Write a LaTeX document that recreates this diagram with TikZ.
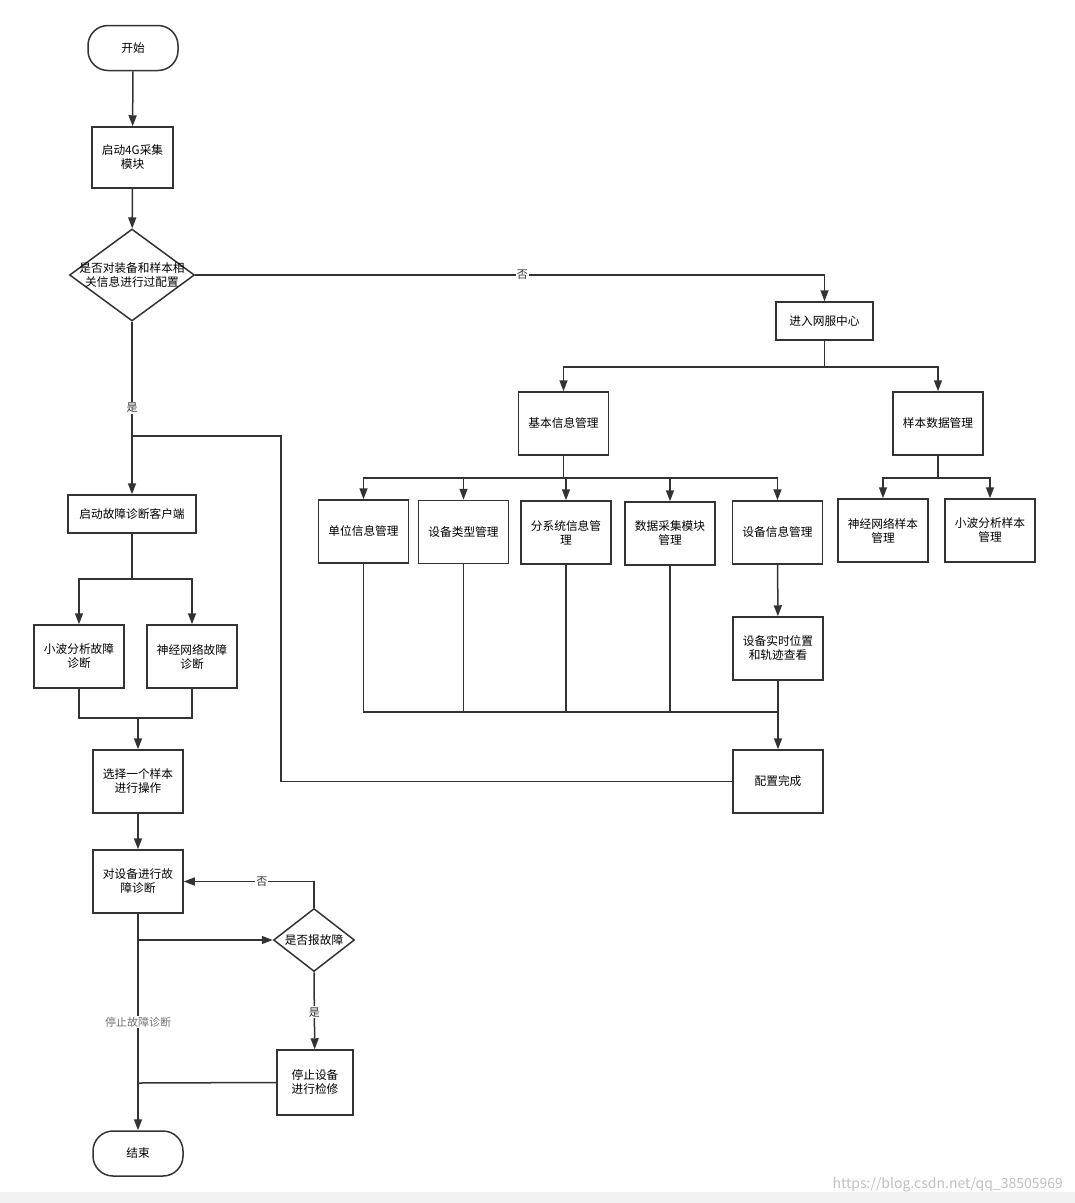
\documentclass[tikz,border=0pt]{standalone}
\usepackage{fontspec}
\setmainfont{Noto Sans CJK SC}
\usetikzlibrary{arrows.meta,shapes.geometric}
\definecolor{ln}{HTML}{333333}

\begin{document}
\begin{tikzpicture}[x=1pt, y=-1pt, line width=1.5pt, draw=ln, text=black,
  font=\fontsize{11.7pt}{14pt}\selectfont,
  box/.style={rectangle, draw, minimum width=90pt, minimum height=63pt, align=center, inner sep=2pt},
  term/.style={rectangle, draw, rounded corners=20pt, minimum width=90pt, minimum height=45pt},
  decision/.style={diamond, draw, inner sep=0pt},
  arr/.style={-{Triangle[length=11pt,width=8pt]}},
  lab/.style={fill=white, inner sep=1pt, text=ln, font=\fontsize{11pt}{13pt}\selectfont}]
  \useasboundingbox (0,0) rectangle (1075,1203);
  \fill[black!5] (0,1192) rectangle (1075,1203);

  % left column
  \node[term] (start) at (133,48) {开始};
  \node[box, minimum width=81pt, minimum height=61pt] (cam4g) at (132.5,157.5) {启动4G采集\\模块};
  \node[decision, minimum width=125pt, minimum height=92pt] (cfg) at (132,275) {};
  \node[align=center, inner sep=0pt] (cfgtext) at (cfg) {是否对装备和样本相\\关信息进行过配置};
  \node[box, minimum width=128pt, minimum height=38pt] (client) at (132,514) {启动故障诊断客户端};
  \node[box] (wvdiag) at (79,656.5) {小波分析故障\\诊断};
  \node[box] (nndiag) at (192,656.5) {神经网络故障\\诊断};
  \node[box] (pick) at (138,781.5) {选择一个样本\\进行操作};
  \node[box] (diag) at (138,881.5) {对设备进行故\\障诊断};
  \node[decision, minimum width=81pt, minimum height=63pt] (report) at (314,940) {};
  \node[inner sep=0pt] (reporttext) at (report) {是否报故障};
  \node[box, minimum width=76pt, minimum height=65pt] (stop) at (315,1082.5) {停止设备\\进行检修};
  \node[term] (end) at (138,1153.5) {结束};

  % right part
  \node[box, minimum width=97pt, minimum height=38pt] (net) at (824.5,321) {进入网服中心};
  \node[box] (basic) at (563.5,423.5) {基本信息管理};
  \node[box] (sample) at (938,423.5) {样本数据管理};
  \node[box] (unit) at (363.5,531.5) {单位信息管理};
  \node[box] (type) at (463.5,532) {设备类型管理};
  \node[box] (subsys) at (566,532.5) {分系统信息管\\理};
  \node[box] (acq) at (670,533.5) {数据采集模块\\管理};
  \node[box] (dev) at (777.5,532.5) {设备信息管理};
  \node[box] (nnsamp) at (883,530.5) {神经网络样本\\管理};
  \node[box] (wvsamp) at (990,530.5) {小波分析样本\\管理};
  \node[box] (pos) at (778,648.5) {设备实时位置\\和轨迹查看};
  \node[box] (done) at (778,781.5) {配置完成};

  \coordinate (back) at (281,436);
  \coordinate (merge) at (778,712);
  \coordinate (join) at (138,718);
  \coordinate (fork) at (138,940);
  \coordinate (rejoin) at (138,1083);

  \draw[arr] (start) -- (cam4g);
  \draw[arr] (cam4g) -- (cfg);
  \draw[arr] (cfg.east) -| node[lab, pos=0.26] {否} (net);
  \draw[arr] (cfg.south) -- node[lab] {是} (client);
  \draw (done.west) -| (back) -- (cfg.south |- back);

  \foreach \n in {basic,sample} \draw[arr] (net.south) -- ++(0,26) -| (\n.north);
  \foreach \n in {unit,type,subsys,acq,dev} \draw[arr] (basic.south) -- ++(0,22) -| (\n.north);
  \foreach \n in {nnsamp,wvsamp} \draw[arr] (sample.south) -- ++(0,22) -| (\n.north);
  \draw[arr] (dev) -- (pos);
  \foreach \n in {unit,type,subsys,acq} \draw (\n.south) |- (merge);
  \draw[arr] (pos) -- (done);

  \foreach \n in {wvdiag,nndiag} \draw[arr] (client.south) -- ++(0,45) -| (\n.north);
  \foreach \n in {wvdiag,nndiag} \draw (\n.south) |- (join);
  \draw[arr] (join) -- (pick);
  \draw[arr] (pick) -- (diag);
  \draw[arr] (diag) -- node[lab, text=black!55] {停止故障诊断} (end);
  \draw[arr] (fork) -- (report.west);
  \draw[arr] (report.north) |- node[lab, pos=0.7] {否} (diag.east);
  \draw[arr] (report.south) -- node[lab, pos=0.52] {是} (stop);
  \draw (stop.west) -- (rejoin);

  \node[text=black!25, font=\fontsize{14pt}{16pt}\selectfont, anchor=east] (mark) at (1067,1185) {https://blog.csdn.net/qq\_38505969};
\end{tikzpicture}
\end{document}
